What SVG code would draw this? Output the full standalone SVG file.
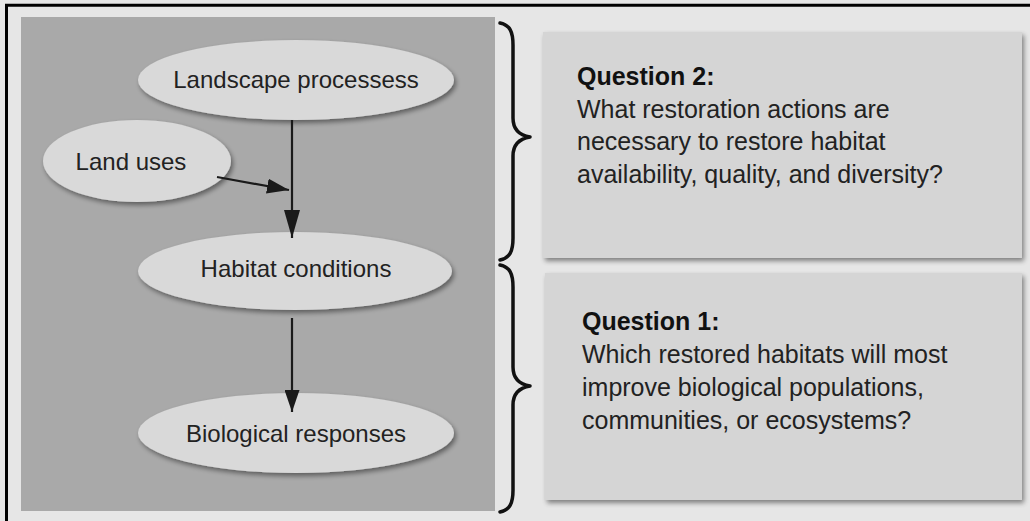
<svg xmlns="http://www.w3.org/2000/svg" width="1030" height="521" viewBox="0 0 1030 521">
  <defs>
    <filter id="shadow" x="-10%" y="-20%" width="125%" height="150%">
      <feGaussianBlur in="SourceAlpha" stdDeviation="2.5"/>
      <feOffset dx="2" dy="3" result="b"/>
      <feComponentTransfer><feFuncA type="linear" slope="0.45"/></feComponentTransfer>
      <feMerge><feMergeNode/><feMergeNode in="SourceGraphic"/></feMerge>
    </filter>
    <marker id="arrow" viewBox="0 0 28 16" refX="28" refY="8" markerWidth="28" markerHeight="16" markerUnits="userSpaceOnUse" orient="auto">
      <path d="M0,0 L28,8 L0,16 Z" fill="#1a1a1a"/>
    </marker>
    <marker id="arrow2" viewBox="0 0 22 15" refX="22" refY="7.5" markerWidth="22" markerHeight="15" markerUnits="userSpaceOnUse" orient="auto">
      <path d="M0,0 L22,7.5 L0,15 Z" fill="#1a1a1a"/>
    </marker>
  </defs>
  <style>
    .node ellipse { fill: #d9d9d9; filter: url(#shadow); }
    .lbl { font-family: "Liberation Sans", Arial, sans-serif; font-size: 24px; fill: #222; text-anchor: middle; }
    .box { fill: #d5d5d5; filter: url(#shadow); }
    .q { font-family: "Liberation Sans", Arial, sans-serif; font-size: 25px; fill: #222; }
    .qb { font-weight: bold; fill: #111; }
    .edge { stroke: #1a1a1a; stroke-width: 2.2; fill: none; }
    .brace { stroke: #111; stroke-width: 3.5; fill: none; stroke-linecap: round; stroke-linejoin: round; }
  </style>

  <rect x="0" y="0" width="1030" height="521" fill="#e6e6e6"/>
  <line x1="5" y1="5.3" x2="1030" y2="5.3" stroke="#000" stroke-width="3"/>
  <line x1="6.5" y1="4" x2="6.5" y2="521" stroke="#000" stroke-width="3"/>

  <rect id="panel" x="21" y="17" width="474" height="494" fill="#a9a9a9"/>

  <g id="node-landscape" class="node">
    <ellipse cx="296" cy="80" rx="158" ry="40"/>
    <text class="lbl" x="296" y="88">Landscape processess</text>
  </g>
  <g id="node-landuses" class="node">
    <ellipse cx="137" cy="161" rx="94" ry="41"/>
    <text class="lbl" x="131" y="170">Land uses</text>
  </g>
  <g id="node-habitat" class="node">
    <ellipse cx="295" cy="271" rx="157" ry="39"/>
    <text class="lbl" x="296" y="277">Habitat conditions</text>
  </g>
  <g id="node-bio" class="node">
    <ellipse cx="296" cy="433" rx="158" ry="40"/>
    <text class="lbl" x="296" y="442">Biological responses</text>
  </g>

  <g id="connectors">
    <line class="edge" x1="292" y1="120" x2="292" y2="238" marker-end="url(#arrow)"/>
    <line class="edge" x1="217" y1="177" x2="289" y2="190" marker-end="url(#arrow2)"/>
    <line class="edge" x1="292" y1="318" x2="292" y2="412" marker-end="url(#arrow2)"/>
  </g>

  <g id="braces">
    <path class="brace" d="M500,23 C510,25 513,32 513,45 L513,118 C513,128 518,135 530,137 C518,139 513,146 513,156 L513,238 C513,251 510,258 500,260"/>
    <path class="brace" d="M500,265 C510,267 513,274 513,287 L513,367 C513,377 518,384 530,386 C518,388 513,395 513,405 L513,490 C513,503 510,510 500,512"/>
  </g>

  <g id="question2">
    <rect class="box" x="543" y="32" width="479" height="226"/>
    <text class="q" x="577" y="85"><tspan class="qb">Question 2:</tspan></text>
    <text class="q" x="577" y="118">What restoration actions are</text>
    <text class="q" x="577" y="150">necessary to restore habitat</text>
    <text class="q" x="577" y="183">availability, quality, and diversity?</text>
  </g>
  <g id="question1">
    <rect class="box" x="545" y="273" width="477" height="227"/>
    <text class="q" x="582" y="330"><tspan class="qb">Question 1:</tspan></text>
    <text class="q" x="582" y="363">Which restored habitats will most</text>
    <text class="q" x="582" y="396">improve biological populations,</text>
    <text class="q" x="582" y="429">communities, or ecosystems?</text>
  </g>
</svg>
